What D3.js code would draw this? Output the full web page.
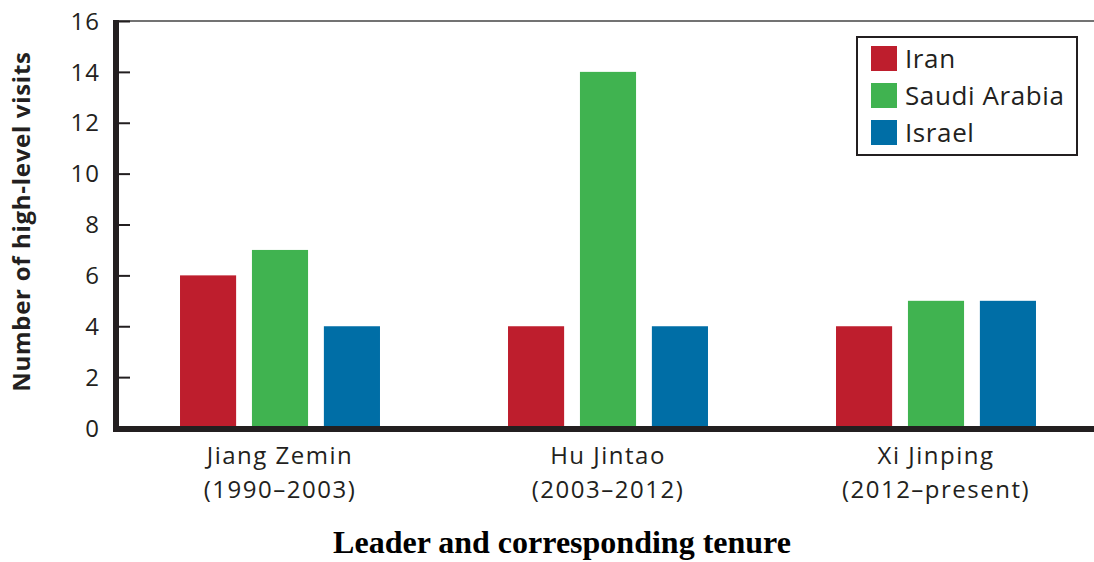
<!DOCTYPE html>
<html>
<head>
<meta charset="utf-8">
<script src="https://cdn.jsdelivr.net/npm/d3@7"></script>
<style>
  body { margin: 0; background: #fff; }
  svg { display: block; }
</style>
</head>
<body>
<div id="chart"></div>
<script>
const leaders = ["Jiang Zemin", "Hu Jintao", "Xi Jinping"];
const tenures = ["(1990\u20132003)", "(2003\u20132012)", "(2012\u2013present)"];
const countries = ["Iran", "Saudi Arabia", "Israel"];
const iranVisits = [6, 4, 4];
const saudiVisits = [7, 14, 5];
const israelVisits = [4, 4, 5];
const yTicks = [0, 2, 4, 6, 8, 10, 12, 14, 16];
const colors = ["#be1e2d", "#40b350", "#006ea6"];

const series = [iranVisits, saudiVisits, israelVisits];

const width = 1094, height = 562;
const margin = {top: 21, left: 116, right: -6, bottom: 134};

const svg = d3.select("#chart").append("svg")
    .attr("width", width)
    .attr("height", height)
    .style("font-family", "'Open Sans', sans-serif");

const x = d3.scaleBand()
    .domain(leaders)
    .range([margin.left, width - margin.right]);

const x1 = d3.scaleBand()
    .domain(countries)
    .range([0, x.bandwidth()])
    .paddingInner(0.22)
    .paddingOuter(0.89);

const y = d3.scaleLinear()
    .domain([0, 16])
    .range([height - margin.bottom, margin.top]);

// top frame line
svg.append("line")
    .attr("x1", margin.left).attr("x2", width)
    .attr("y1", y(16)).attr("y2", y(16))
    .attr("stroke", "#444").attr("stroke-width", 1.5);

// bars
const groups = svg.selectAll("g.group")
    .data(leaders)
    .join("g")
    .attr("class", "group")
    .attr("transform", d => `translate(${x(d)},0)`);

groups.selectAll("rect")
    .data((d, i) => countries.map((c, k) => ({country: c, value: series[k][i], k})))
    .join("rect")
    .attr("x", d => x1(d.country))
    .attr("width", x1.bandwidth())
    .attr("y", d => y(d.value))
    .attr("height", d => y(0) - y(d.value))
    .attr("fill", d => colors[d.k]);

// y axis
const yAxis = d3.axisRight(y)
    .tickValues(yTicks)
    .tickSize(14)
    .tickFormat("");

const yg = svg.append("g")
    .attr("transform", `translate(${margin.left},0)`)
    .call(yAxis);
yg.select(".domain").remove();
yg.selectAll(".tick line").attr("stroke", "#231f20").attr("stroke-width", 2);

svg.selectAll("text.ytick")
    .data(yTicks)
    .join("text")
    .attr("class", "ytick")
    .attr("x", 100)
    .attr("y", d => y(d))
    .attr("dy", "0.36em")
    .attr("text-anchor", "end")
    .attr("font-size", 24)
    .attr("letter-spacing", 1)
    .attr("fill", "#231f20")
    .text(d => d);

// axis lines
svg.append("line")
    .attr("x1", margin.left).attr("x2", margin.left)
    .attr("y1", y(16) - 1).attr("y2", y(0) + 3)
    .attr("stroke", "#231f20").attr("stroke-width", 6);

svg.append("line")
    .attr("x1", margin.left - 3).attr("x2", width)
    .attr("y1", y(0) + 1).attr("y2", y(0) + 1)
    .attr("stroke", "#231f20").attr("stroke-width", 6);

// category labels (two lines each)
const catX = d => x(d) + x.bandwidth() / 2;
svg.selectAll("text.cat")
    .data(leaders)
    .join("text")
    .attr("class", "cat")
    .attr("x", catX)
    .attr("y", 464)
    .attr("text-anchor", "middle")
    .attr("font-size", 24)
    .attr("letter-spacing", 1.5)
    .attr("fill", "#231f20")
    .text(d => d);
svg.selectAll("text.tenure")
    .data(leaders)
    .join("text")
    .attr("class", "tenure")
    .attr("x", catX)
    .attr("y", 498)
    .attr("text-anchor", "middle")
    .attr("font-size", 24)
    .attr("letter-spacing", 1.5)
    .attr("fill", "#231f20")
    .text((d, i) => tenures[i]);

// axis titles
svg.append("text")
    .attr("x", 562)
    .attr("y", 553)
    .attr("text-anchor", "middle")
    .attr("font-family", "'Liberation Serif', 'Times New Roman', serif")
    .attr("font-weight", "bold")
    .attr("font-size", 32)
    .attr("fill", "#000")
    .text("Leader and corresponding tenure");

svg.append("text")
    .attr("transform", `translate(30,${(y(0) + y(16)) / 2 - 3}) rotate(-90)`)
    .attr("text-anchor", "middle")
    .attr("font-weight", "bold")
    .attr("font-size", 24)
    .attr("letter-spacing", 0.7)
    .attr("fill", "#231f20")
    .text("Number of high-level visits");

// legend
const legend = svg.append("g").attr("transform", "translate(857,37)");
legend.append("rect")
    .attr("width", 220).attr("height", 118)
    .attr("fill", "#fff")
    .attr("stroke", "#231f20").attr("stroke-width", 2);

const items = legend.selectAll("g.item")
    .data(countries)
    .join("g")
    .attr("class", "item")
    .attr("transform", (d, i) => `translate(14,${9 + i * 37})`);
items.append("rect")
    .attr("width", 26).attr("height", 25)
    .attr("fill", (d, i) => colors[i]);
items.append("text")
    .attr("x", 34)
    .attr("y", 12.5)
    .attr("dy", "0.36em")
    .attr("font-size", 26)
    .attr("letter-spacing", 0.6)
    .attr("fill", "#231f20")
    .text(d => d);
</script>
</body>
</html>
